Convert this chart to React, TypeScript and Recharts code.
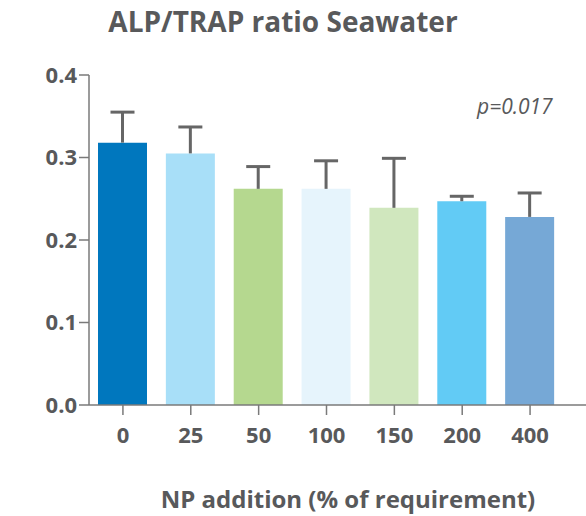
import { Bar, BarChart, Cell, XAxis, YAxis } from "recharts";

const categories = ["0", "25", "50", "100", "150", "200", "400"];
const ratios = [0.318, 0.305, 0.262, 0.262, 0.239, 0.247, 0.228];
const errors = [0.037, 0.032, 0.027, 0.034, 0.06, 0.006, 0.029];
const barColors = [
  "#0077BE",
  "#A8DFF8",
  "#B5D88F",
  "#E6F4FC",
  "#D0E7BE",
  "#62CBF5",
  "#76A8D6",
];
const yTicks = [0, 0.1, 0.2, 0.3, 0.4];

const data = categories.map((c, i) => ({
  np: c,
  ratio: ratios[i],
  err: errors[i],
}));

const TEXT = "#58595B";
const FONT = "'Open Sans', sans-serif";

// draws the upper error whisker on top of the stacked bar
function Whisker(props: any) {
  const { x, y, width, height } = props;
  const cx = x + width / 2;
  return (
    <g>
      <line x1={cx} x2={cx} y1={y} y2={y + height} stroke="#666" strokeWidth={3} />
      <line x1={cx - 12} x2={cx + 12} y1={y} y2={y} stroke="#666" strokeWidth={3} />
    </g>
  );
}

export default function App() {
  return (
    <div
      style={{
        position: "absolute",
        left: 0,
        top: 0,
        width: 586,
        height: 516,
        fontFamily: FONT,
        background: "#fff",
      }}
    >
      <div
        style={{
          position: "absolute",
          top: 2,
          left: 0,
          width: 566,
          textAlign: "center",
          fontSize: 28,
          fontWeight: 700,
          color: TEXT,
        }}
      >
        ALP/TRAP ratio Seawater
      </div>
      <div
        style={{
          position: "absolute",
          top: 92,
          left: 477,
          fontSize: 21,
          fontStyle: "italic",
          color: TEXT,
        }}
      >
        p=0.017
      </div>
      <div
        style={{
          position: "absolute",
          top: 482,
          left: 150,
          width: 396,
          textAlign: "center",
          fontSize: 24,
          fontWeight: 700,
          color: TEXT,
        }}
      >
        NP addition (% of requirement)
      </div>
      <BarChart
        width={586}
        height={516}
        data={data}
        margin={{ top: 75, right: 0, left: 0, bottom: 61 }}
        style={{ position: "absolute", left: 0, top: 0 }}
      >
        <XAxis
          dataKey="np"
          tickSize={10}
          tickMargin={12}
          height={50}
          padding={{ left: 0, right: 22 }}
          stroke="#7a7a7a"
          strokeWidth={1.5}
          tick={{ fill: TEXT, fontSize: 22, fontWeight: 700, fontFamily: FONT }}
        />
        <YAxis
          type="number"
          domain={[0, 0.4]}
          ticks={yTicks}
          tickFormatter={(v: number) => v.toFixed(1)}
          width={89}
          tickSize={10}
          stroke="#7a7a7a"
          strokeWidth={1.5}
          tick={{ fill: TEXT, fontSize: 22, fontWeight: 700, fontFamily: FONT }}
        />
        <Bar dataKey="ratio" stackId="a" barSize={49} isAnimationActive={false}>
          {data.map((_, i) => (
            <Cell key={i} fill={barColors[i]} />
          ))}
        </Bar>
        <Bar
          dataKey="err"
          stackId="a"
          barSize={49}
          fill="transparent"
          shape={<Whisker />}
          isAnimationActive={false}
        />
      </BarChart>
    </div>
  );
}
